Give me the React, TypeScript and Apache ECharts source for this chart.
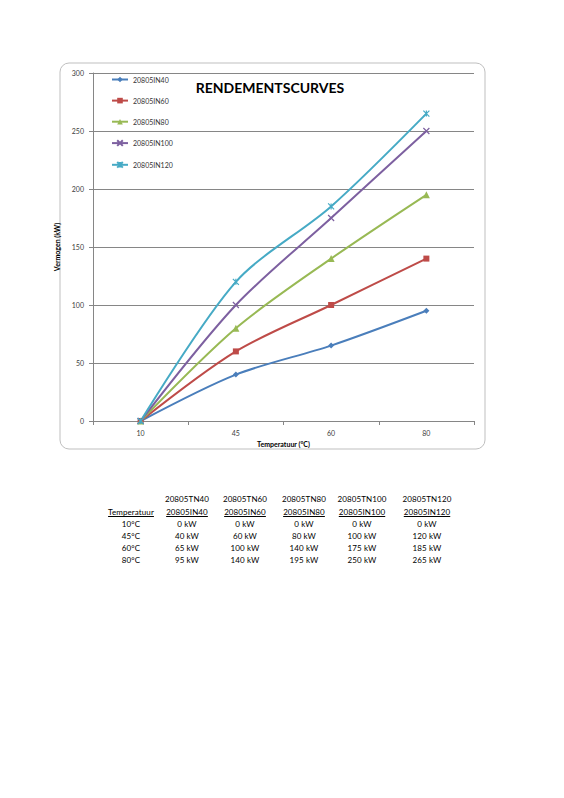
import React, { useEffect, useRef } from "react";
import * as echarts from "echarts";

const temperatures = ["10", "45", "60", "80"];
const tempLabels = ["10°C", "45°C", "60°C", "80°C"];
const seriesNames = ["20805IN40", "20805IN60", "20805IN80", "20805IN100", "20805IN120"];
const tnNames = ["20805TN40", "20805TN60", "20805TN80", "20805TN100", "20805TN120"];
const in40 = [0, 40, 65, 95];
const in60 = [0, 60, 100, 140];
const in80 = [0, 80, 140, 195];
const in100 = [0, 100, 175, 250];
const in120 = [0, 120, 185, 265];
const seriesValues = [in40, in60, in80, in100, in120];
const yTicks = { min: 0, max: 300, interval: 50 };

const colors = ["#4a7ebb", "#be4b48", "#98b954", "#7d60a0", "#46aac5"];
const symbols = [
  "diamond",
  "rect",
  "triangle",
  "path://M0,0L10,10M10,0L0,10",
  "path://M0,0L10,10M10,0L0,10M5,0L5,10",
];
const symbolSizes = [6, 6, 7, 6, 6];

const FONT = "Lato, 'Liberation Sans', sans-serif";

export default function App() {
  const ref = useRef<HTMLDivElement>(null);

  useEffect(() => {
    if (!ref.current) return;
    const chart = echarts.init(ref.current, null, { renderer: "svg" });
    chart.setOption({
      animation: false,
      textStyle: { fontFamily: FONT },
      grid: { left: 93, top: 73, width: 381, height: 348, containLabel: false },
      graphic: [
        {
          type: "rect",
          shape: { x: 60, y: 63, width: 425, height: 386, r: 9 },
          style: { fill: "#fff", stroke: "#bfbfbf", lineWidth: 1 },
          z: -10,
        },
        {
          type: "text",
          x: 270,
          y: 87,
          style: {
            text: "RENDEMENTSCURVES",
            fontFamily: FONT,
            fontWeight: "bold",
            fontSize: 14,
            fill: "#000",
            textAlign: "center",
            textVerticalAlign: "middle",
          },
        },
      ],
      legend: {
        orient: "vertical",
        left: 106,
        top: 71,
        itemWidth: 16,
        itemHeight: 7,
        itemGap: 14.1,
        textStyle: { fontSize: 7, color: "#333", fontFamily: FONT },
        data: seriesNames,
      },
      xAxis: {
        type: "category",
        data: temperatures,
        boundaryGap: true,
        name: "Temperatuur (°C)",
        nameLocation: "middle",
        nameGap: 19,
        nameTextStyle: { fontSize: 7, fontWeight: "bold", color: "#000" },
        axisLine: { lineStyle: { color: "#868686" } },
        axisTick: { show: true, length: 4, lineStyle: { color: "#868686" } },
        axisLabel: { fontSize: 7, color: "#404040", margin: 8 },
        splitLine: { show: false },
      },
      yAxis: {
        type: "value",
        min: yTicks.min,
        max: yTicks.max,
        interval: yTicks.interval,
        name: "Vermogen (kW)",
        nameLocation: "middle",
        nameGap: 23,
        nameTextStyle: { fontSize: 7, fontWeight: "bold", color: "#000" },
        axisLine: { show: true, lineStyle: { color: "#868686" } },
        axisTick: { show: true, length: 4, lineStyle: { color: "#868686" } },
        axisLabel: { fontSize: 7, color: "#404040", margin: 9 },
        splitLine: { show: true, lineStyle: { color: "#868686", width: 1 } },
      },
      series: seriesNames.map((name, i) => ({
        name,
        type: "line",
        data: seriesValues[i],
        smooth: 0.3,
        symbol: symbols[i],
        symbolSize: symbolSizes[i],
        showSymbol: true,
        lineStyle: { color: colors[i], width: 2 },
        itemStyle: { color: colors[i], borderColor: colors[i], borderWidth: i >= 3 ? 1.2 : 0 },
      })),
    });
    return () => chart.dispose();
  }, []);

  const colCenters = [187, 245, 304, 362, 427];
  const tempCenter = 131;
  const rowY = [499, 512, 524, 536, 548, 560];

  const cell = (text: string, cx: number, cy: number, underline = false, key?: string) => (
    <div
      key={key ?? `${text}-${cx}-${cy}`}
      style={{
        position: "absolute",
        left: cx - 45,
        top: cy - 6,
        width: 90,
        height: 12,
        lineHeight: "12px",
        textAlign: "center",
        fontSize: 8,
        letterSpacing: 0.1,
        color: "#000",
        textDecoration: underline ? "underline" : "none",
        whiteSpace: "nowrap",
      }}
    >
      {text}
    </div>
  );

  const cells: React.ReactNode[] = [];
  tnNames.forEach((n, i) => cells.push(cell(n, colCenters[i], rowY[0])));
  cells.push(cell("Temperatuur", tempCenter, rowY[1], true));
  seriesNames.forEach((n, i) => cells.push(cell(n, colCenters[i], rowY[1], true)));
  tempLabels.forEach((t, r) => {
    cells.push(cell(t, tempCenter, rowY[r + 2]));
    seriesValues.forEach((vals, i) =>
      cells.push(cell(`${vals[r]} kW`, colCenters[i], rowY[r + 2], false, `v-${r}-${i}`))
    );
  });

  return (
    <div
      style={{
        position: "absolute",
        left: 0,
        top: 0,
        width: 564,
        height: 798,
        background: "#fff",
        fontFamily: FONT,
      }}
    >
      <div ref={ref} style={{ position: "absolute", left: 0, top: 0, width: 564, height: 470 }} />
      {cells}
    </div>
  );
}
